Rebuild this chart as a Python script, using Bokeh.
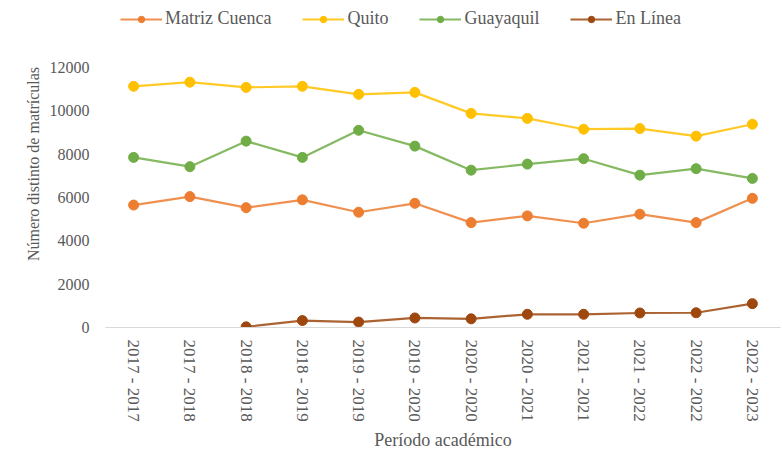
from bokeh.plotting import figure
from bokeh.models import FixedTicker, Legend, LegendItem, FactorRange, Range1d
from bokeh.embed import file_html
from bokeh.resources import INLINE

periods = ["2017 - 2017", "2017 - 2018", "2018 - 2018", "2018 - 2019",
           "2019 - 2019", "2019 - 2020", "2020 - 2020", "2020 - 2021",
           "2021 - 2021", "2021 - 2022", "2022 - 2022", "2022 - 2023"]

matriz_cuenca = [5650, 6040, 5530, 5890, 5320, 5730, 4840, 5150, 4810, 5230, 4840, 5960]
quito = [11130, 11320, 11080, 11130, 10760, 10850, 9880, 9650, 9150, 9180, 8830, 9380]
guayaquil = [7850, 7420, 8600, 7850, 9100, 8370, 7260, 7540, 7790, 7030, 7330, 6880]
en_linea_periods = periods[2:]
en_linea = [30, 320, 250, 440, 400, 610, 610, 670, 680, 1100]

y_ticks = [0, 2000, 4000, 6000, 8000, 10000, 12000]

FONT = "Liberation Serif"
GRAY = "#595959"

p = figure(width=782, height=452, output_backend="svg", toolbar_location=None,
           x_range=FactorRange(*periods), y_range=Range1d(0, 15090),
           min_border_left=105, min_border_right=2, min_border_top=0,
           min_border_bottom=125)
p.outline_line_color = None
p.xgrid.grid_line_color = None
p.ygrid.grid_line_color = None

series = [
    ("Matriz Cuenca", periods, matriz_cuenca, "#ED7D31"),
    ("Quito", periods, quito, "#FFC000"),
    ("Guayaquil", periods, guayaquil, "#70AD47"),
    ("En Línea", en_linea_periods, en_linea, "#9E480E"),
]

items = []
for name, xs, ys, col in series:
    l = p.line(xs, ys, line_color=col, line_width=2.2, line_alpha=0.85)
    c = p.scatter(xs, ys, size=10, fill_color=col, line_color=col)
    items.append(LegendItem(label=name, renderers=[l, c]))

legend = Legend(items=items, orientation="horizontal", location=(15, 298),
                label_text_font=FONT, label_text_font_size="18px",
                label_text_color=GRAY, glyph_width=42, glyph_height=16,
                label_standoff=3, spacing=31, padding=2, margin=0,
                border_line_color=None, background_fill_alpha=0)
p.add_layout(legend)

p.yaxis.ticker = FixedTicker(ticks=y_ticks)
p.yaxis.axis_line_color = None
p.yaxis.major_tick_line_color = None
p.yaxis.minor_tick_line_color = None
p.yaxis.major_label_text_font = FONT
p.yaxis.major_label_text_font_size = "16px"
p.yaxis.major_label_text_color = GRAY
p.yaxis.major_label_standoff = 10
p.yaxis.axis_label = "Número distinto de matrículas"
p.yaxis.axis_label_text_font = FONT
p.yaxis.axis_label_text_font_style = "normal"
p.yaxis.axis_label_text_font_size = "16px"
p.yaxis.axis_label_text_color = GRAY
p.yaxis.axis_label_standoff = 5

p.xaxis.axis_line_color = "#D9D9D9"
p.xaxis.axis_line_width = 1
p.xaxis.major_tick_line_color = None
p.xaxis.minor_tick_line_color = None
p.xaxis.major_label_orientation = "vertical"
p.xaxis.major_label_text_font = FONT
p.xaxis.major_label_text_font_size = "17px"
p.xaxis.major_label_text_color = GRAY
p.xaxis.major_label_standoff = 6
p.xaxis.axis_label = "Período académico"
p.xaxis.axis_label_text_font = FONT
p.xaxis.axis_label_text_font_style = "normal"
p.xaxis.axis_label_text_font_size = "18px"
p.xaxis.axis_label_text_color = GRAY
p.xaxis.axis_label_standoff = 5

open("out.html", "w").write(file_html(p, INLINE))
